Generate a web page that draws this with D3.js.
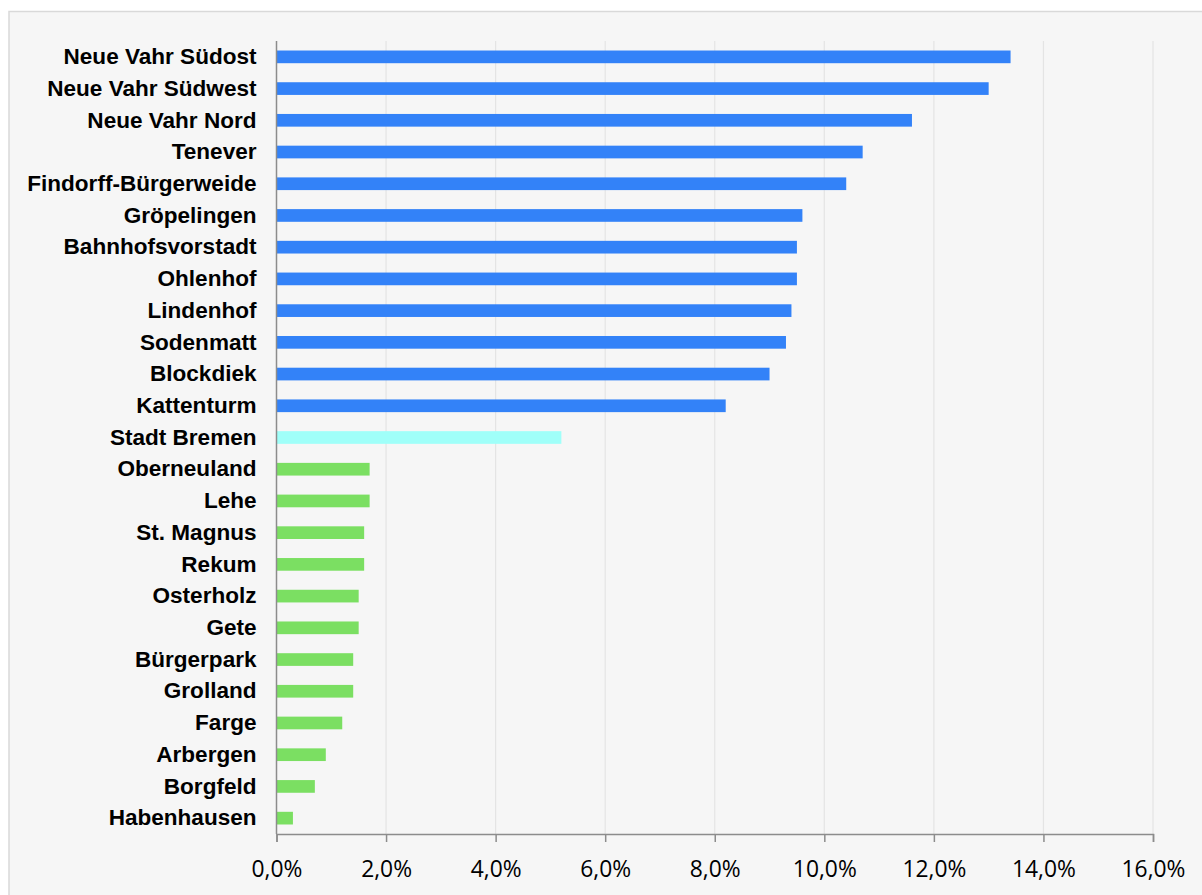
<!DOCTYPE html>
<html><head><meta charset="utf-8">
<script src="https://cdn.jsdelivr.net/npm/d3@7"></script>
<style>
html,body{margin:0;padding:0;background:#fff;}
svg{display:block;}
</style></head>
<body>
<script>
const categories = ["Neue Vahr Südost","Neue Vahr Südwest","Neue Vahr Nord","Tenever","Findorff-Bürgerweide","Gröpelingen","Bahnhofsvorstadt","Ohlenhof","Lindenhof","Sodenmatt","Blockdiek","Kattenturm","Stadt Bremen","Oberneuland","Lehe","St. Magnus","Rekum","Osterholz","Gete","Bürgerpark","Grolland","Farge","Arbergen","Borgfeld","Habenhausen"];
const values = [13.4,13.0,11.6,10.7,10.4,9.6,9.5,9.5,9.4,9.3,9.0,8.2,5.2,1.7,1.7,1.6,1.6,1.5,1.5,1.4,1.4,1.2,0.9,0.7,0.3];
const groups = ["high","high","high","high","high","high","high","high","high","high","high","high","city","low","low","low","low","low","low","low","low","low","low","low","low"];
const tickValues = [0,2,4,6,8,10,12,14,16];
const groupColors = {high:"#3382F8", city:"#A0FFF9", low:"#7BDF62"};

const W = 1202, H = 895;
const svg = d3.select("body").append("svg").attr("width", W).attr("height", H);
svg.append("rect").attr("x", 9).attr("y", 11.5).attr("width", W).attr("height", H)
  .attr("fill", "#f6f6f6").attr("stroke", "#d9d9d9").attr("stroke-width", 1.5);

const x0 = 276.5, x1 = 1153, y0 = 41, y1 = 834;
const x = d3.scaleLinear().domain([0,16]).range([x0,x1]);
const y = d3.scaleBand().domain(categories).range([y0,y1]).paddingInner(0.6).paddingOuter(0.3);

// gridlines
svg.append("g").selectAll("line").data(tickValues.slice(1)).join("line")
  .attr("x1", d=>x(d)).attr("x2", d=>x(d)).attr("y1", y0).attr("y2", y1)
  .attr("stroke", "#e4e4e4").attr("stroke-width", 1.2);

// bars
svg.append("g").selectAll("rect").data(categories).join("rect")
  .attr("x", x(0)).attr("y", d=>y(d))
  .attr("width", (d,i)=>x(values[i]) - x(0))
  .attr("height", y.bandwidth())
  .attr("fill", (d,i)=>groupColors[groups[i]]);

// x axis
const xAxis = d3.axisBottom(x).tickValues(tickValues).tickSize(8).tickPadding(19)
  .tickFormat(d => d3.format(".1f")(d).replace(".", ",") + "%");
const gx = svg.append("g").attr("transform", `translate(0,${y1})`).call(xAxis);
gx.select(".domain").attr("stroke", "#8c8c8c").attr("stroke-width", 1.5);
gx.selectAll(".tick line").attr("stroke", "#8c8c8c").attr("stroke-width", 1.5);
const xt = gx.selectAll(".tick text").attr("font-family", "'Open Sans', sans-serif").attr("font-size", 22)
  .attr("fill", "#000");
// fit tick font so "10,0%" is ~64px wide like the reference
const t10 = xt.filter(d => d === 10).node();
const xfs = 22 * 64 / t10.getComputedTextLength();
xt.attr("font-size", xfs);

// y axis
const yAxis = d3.axisLeft(y).tickSize(0).tickPadding(20);
const gy = svg.append("g").attr("transform", `translate(${x0},0)`).call(yAxis);
gy.select(".domain").attr("d", `M0,${y0}V${y1}`).attr("stroke", "#8c8c8c").attr("stroke-width", 1.5);
const yt = gy.selectAll(".tick text").attr("font-family", "'Liberation Sans', Arial, sans-serif")
  .attr("font-size", 21).attr("font-weight", "bold").attr("fill", "#000");
const tFirst = yt.filter(d => d === categories[0]).node();
const yfs = 21 * 193 / tFirst.getComputedTextLength();
yt.attr("font-size", yfs);
</script>
</body></html>
